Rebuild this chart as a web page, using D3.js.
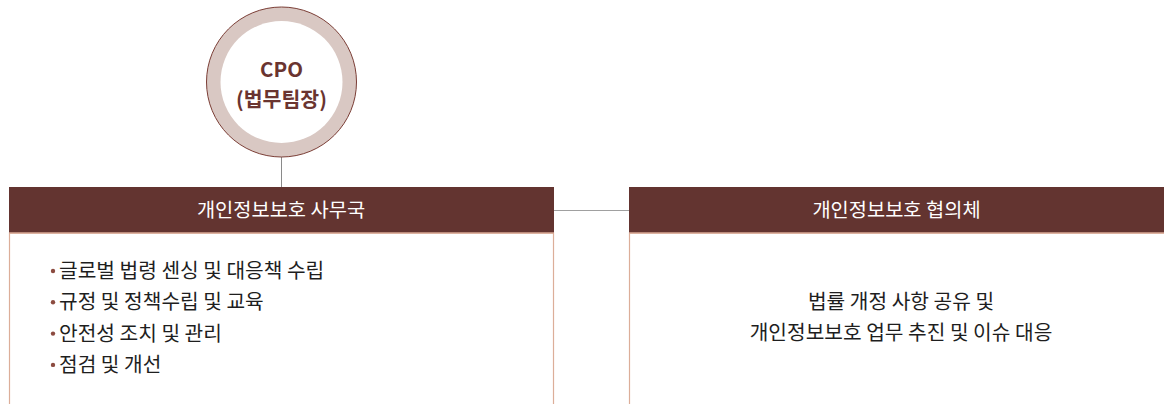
<!DOCTYPE html>
<html><head><meta charset="utf-8">
<script src="https://cdn.jsdelivr.net/npm/d3@7"></script>
<style>html,body{margin:0;padding:0;background:#fff;}svg{display:block;}</style>
</head><body>
<script>
const topNode = ["CPO", "(법무팀장)"];
const boxTitles = ["개인정보보호 사무국", "개인정보보호 협의체"];
const officeItems = ["글로벌 법령 센싱 및 대응책 수립", "규정 및 정책수립 및 교육", "안전성 조치 및 관리", "점검 및 개선"];
const councilLines = ["법률 개정 사항 공유 및", "개인정보보호 업무 추진 및 이슈 대응"];

const W = 1164, H = 404;
const font = "'Noto Sans CJK KR', 'Noto Sans', sans-serif";
const svg = d3.select("body").append("svg").attr("width", W).attr("height", H);

const boxes = [{x0: 9.5, x1: 553.5}, {x0: 629.5, x1: 1175}];
const hTop = 187, hBot = 233;
const cx = 281.5, cy = 82, rOut = 75, rIn = 61;

// connectors
svg.append("line").attr("x1", cx).attr("x2", cx).attr("y1", cy + rOut).attr("y2", hTop)
  .attr("stroke", "#8a8a8a").attr("stroke-width", 1);
svg.append("line").attr("x1", boxes[0].x1).attr("x2", boxes[1].x0).attr("y1", 210.5).attr("y2", 210.5)
  .attr("stroke", "#a0a0a0").attr("stroke-width", 1);

// circle
svg.append("circle").attr("cx", cx).attr("cy", cy).attr("r", rOut).attr("fill", "#d9c8c3")
  .attr("stroke", "#7b3e36").attr("stroke-width", 1);
svg.append("circle").attr("cx", cx).attr("cy", cy).attr("r", rIn).attr("fill", "#fff");
svg.selectAll("text.top").data(topNode).join("text").attr("class", "top")
  .attr("x", cx).attr("y", (d, i) => 77 + i * 30).attr("text-anchor", "middle")
  .attr("font-family", font).attr("font-weight", 700).attr("font-size", 20.5).attr("fill", "#6a3430").text(d => d);

// boxes
const g = svg.selectAll("g.box").data(boxes).join("g").attr("class", "box");
g.append("rect").attr("x", d => d.x0).attr("y", hBot).attr("width", d => d.x1 - d.x0).attr("height", 300)
  .attr("fill", "#fff").attr("stroke", "#dcae99").attr("stroke-width", 1.2);
g.append("rect").attr("x", d => d.x0 - 0.5).attr("y", hTop).attr("width", d => d.x1 - d.x0 + 1).attr("height", hBot - hTop)
  .attr("fill", "#633430");
g.append("line").attr("x1", d => d.x0 - 0.5).attr("x2", d => d.x1 + 0.5).attr("y1", hBot).attr("y2", hBot)
  .attr("stroke", "#d9a994").attr("stroke-width", 1.5);
g.append("text").attr("x", (d, i) => i === 0 ? (d.x0 + d.x1) / 2 - 0.5 : 896.5).attr("y", 217).attr("text-anchor", "middle")
  .attr("font-family", font).attr("font-size", 19.8).attr("fill", "#fff").text((d, i) => boxTitles[i]);

// office items
const items = svg.selectAll("g.item").data(officeItems).join("g").attr("class", "item")
  .attr("transform", (d, i) => `translate(59,${278 + i * 31.3})`);
items.append("circle").attr("cx", -6).attr("cy", -7).attr("r", 2.2).attr("fill", "#8c4b40");
items.append("text").attr("x", 0).attr("y", 0).attr("font-family", font).attr("font-size", 20.3)
  .attr("fill", "#1e1e1e").text(d => d);

// council lines
svg.selectAll("text.council").data(councilLines).join("text").attr("class", "council")
  .attr("x", 901).attr("y", (d, i) => 309 + i * 31.3).attr("text-anchor", "middle")
  .attr("font-family", font).attr("font-size", 20.3).attr("fill", "#1e1e1e").text(d => d);
</script>
</body></html>
